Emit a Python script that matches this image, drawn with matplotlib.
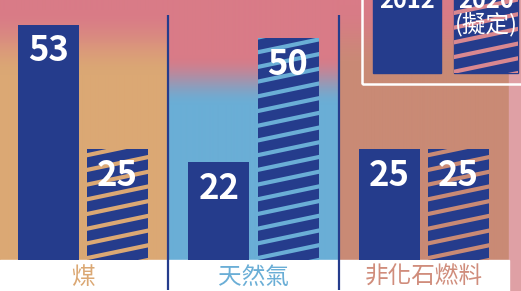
"""Energy mix bars: 2012 vs 2020 (planned), recreated with matplotlib."""

import matplotlib.pyplot as plt
import numpy as np
from matplotlib.colors import to_rgb
from matplotlib.patches import Rectangle

plt.rcParams["font.family"] = ["Noto Sans CJK TC", "DejaVu Sans"]

# --- data -------------------------------------------------------------------
categories = ["煤", "天然氣", "非化石燃料"]
values_2012 = [53, 22, 25]
values_2020 = [25, 50, 25]
legend_labels = ["2012", "2020"]
legend_note = "(擬定)"

# --- styling ----------------------------------------------------------------
NAVY = "#253c8c"
PINK = "#d97b87"
PANEL_COLORS = ["#dba874", "#6aaed6", "#c98a75"]
LABEL_COLORS = ["#dba874", "#6aaed6", "#d08d7c"]
# gradient pink -> panel colour, given as pixel rows from the top
PANEL_FADE = [(10, 75), (55, 105), (5, 70)]
STRIP_COLOR = "#dfa0a5"

W_PX, H_PX = 521, 291
GROUP_PX = 170.5          # px between group centres
FIRST_PX = 83             # px of first group centre
BASE_PX = 260             # px row of the zero line
SCALE = 235 / 53          # px per unit

BAR_W = 61 / GROUP_PX
OFFSET = 34.5 / GROUP_PX

fig = plt.figure(figsize=(W_PX / 100, H_PX / 100), dpi=100)
ax = fig.add_axes([0, 0, 1, 1])
x_lo, x_hi = -FIRST_PX / GROUP_PX, (W_PX - FIRST_PX) / GROUP_PX
y_lo, y_hi = -(H_PX - BASE_PX) / SCALE, BASE_PX / SCALE
ax.set_xlim(x_lo, x_hi)
ax.set_ylim(y_lo, y_hi)
ax.axis("off")


def px_to_val(py):
    return (BASE_PX - py) / SCALE


def lx(px):
    return (px - FIRST_PX) / GROUP_PX


def gradient(x0, x1, color, fade):
    rows = np.arange(BASE_PX)
    t = np.clip((rows - fade[0]) / (fade[1] - fade[0]), 0, 1)
    t = t * t * (3 - 2 * t)
    top, base = np.array(to_rgb(PINK)), np.array(to_rgb(color))
    img = top[None, :] * (1 - t[:, None]) + base[None, :] * t[:, None]
    ax.imshow(img[:, None, :], extent=[x0, x1, 0, y_hi], origin="upper",
              aspect="auto", interpolation="bilinear", zorder=0)


def stripes(patch, color, zorder=3):
    """Shallow diagonal stripes clipped to a bar patch."""
    x0, y0 = patch.get_x(), patch.get_y()
    x1, y1 = x0 + patch.get_width(), y0 + patch.get_height()
    slope = 0.21 * GROUP_PX / SCALE
    step = 14.7 / SCALE
    xs = np.array([x0 - 0.05, x1 + 0.05])
    k = y0 - slope * (x1 - x0) - step
    while k < y1 + step:
        ln, = ax.plot(xs, k + slope * (xs - x0), color=color, lw=3.0,
                      solid_capstyle="butt", zorder=zorder)
        ln.set_clip_path(patch)
        k += step


# panel backgrounds
for i, (c, fade) in enumerate(zip(PANEL_COLORS, PANEL_FADE)):
    gradient(max(i - 0.5, x_lo), i + 0.5, c, fade)
ax.add_patch(Rectangle((2.5, y_lo), x_hi - 2.5, y_hi - y_lo,
                       color=STRIP_COLOR, zorder=1))
ax.add_patch(Rectangle((x_lo, y_lo), 2.5 - x_lo, -y_lo, color="white", zorder=1))

# bars
x = np.arange(len(categories))
bars_a = ax.bar(x - OFFSET, values_2012, BAR_W, color=NAVY, zorder=2)
bars_b = ax.bar(x + OFFSET, values_2020, BAR_W, color=NAVY, zorder=2)
for bar, c in zip(bars_b, PANEL_COLORS):
    stripes(bar, c)

for bars, vals in ((bars_a, values_2012), (bars_b, values_2020)):
    for bar, v in zip(bars, vals):
        ax.text(bar.get_x() + bar.get_width() / 2, v - 12 / SCALE + 0.8, str(v),
                ha="center", va="top", color="white", fontsize=25,
                fontweight="bold", zorder=4)

# dividers
for xd in (0.5, 1.5):
    ax.plot([xd, xd], [px_to_val(290), px_to_val(15)], color=NAVY, lw=1.6,
            zorder=3, solid_capstyle="butt")

# category labels
for xi, name, c in zip(x, categories, LABEL_COLORS):
    ax.text(xi, px_to_val(277), name, ha="center", va="center", color=c,
            fontsize=17, zorder=4)

# legend box (cropped at top/right, as in the source graphic)
ax.add_patch(Rectangle((lx(362), px_to_val(84)), 3, 40, fill=False,
                       edgecolor="white", lw=1.8, zorder=4))
ax.add_patch(Rectangle((lx(373), px_to_val(73)), lx(441) - lx(373), 30,
                       color=NAVY, zorder=4))
leg_b = Rectangle((lx(454), px_to_val(73)), lx(518) - lx(454), 30,
                  color=NAVY, zorder=4)
ax.add_patch(leg_b)
stripes(leg_b, "#d98890", zorder=4.5)
ax.text((lx(373) + lx(441)) / 2, px_to_val(8.5), legend_labels[0], ha="center",
        va="baseline", color="white", fontsize=17, fontweight="bold", zorder=5)
ax.text((lx(454) + lx(518)) / 2, px_to_val(8.5), legend_labels[1], ha="center",
        va="baseline", color="white", fontsize=17, fontweight="bold", zorder=5)
ax.text((lx(454) + lx(518)) / 2, px_to_val(25), legend_note, ha="center",
        va="center", color="white", fontsize=17, zorder=5)

fig.savefig("out.png", dpi=100)
